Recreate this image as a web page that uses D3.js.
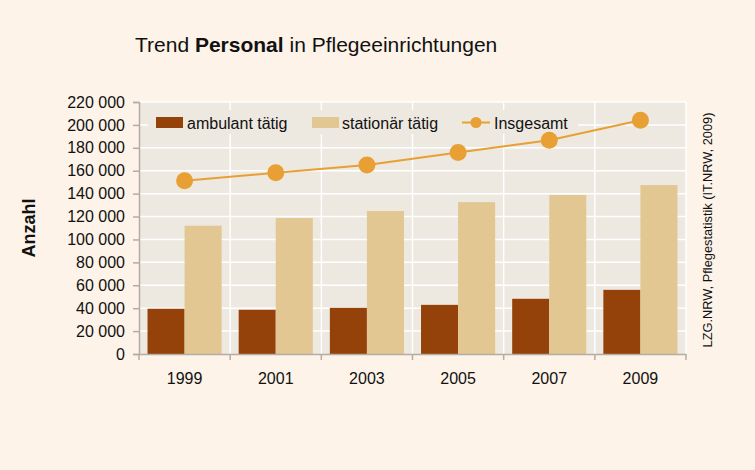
<!DOCTYPE html>
<html>
<head>
<meta charset="utf-8">
<script src="https://cdn.jsdelivr.net/npm/d3@7"></script>
<style>
  body { margin: 0; background: #fdf3e8; }
  svg { display: block; font-family: "Liberation Sans", Arial, sans-serif; }
</style>
</head>
<body>
<div id="chart"></div>
<script>
// data
var years = ["1999", "2001", "2003", "2005", "2007", "2009"];
var seriesNames = ["ambulant tätig", "stationär tätig"];
var ambulant = [39500, 38600, 40300, 42900, 48200, 56000];
var stationaer = [112000, 118700, 124800, 132600, 138800, 147500];
var insgesamt = [151200, 158200, 165100, 175900, 186700, 204100];
var yTicks = [0, 20000, 40000, 60000, 80000, 100000, 120000, 140000, 160000, 180000, 200000, 220000];

var width = 755, height = 470;
var plot = {left: 139, right: 686, top: 102, bottom: 354};

var bar_colors = ["#95410a", "#e3c792"];
var line_color = "#e8a035";

var svg = d3.select("#chart").append("svg")
    .attr("width", width)
    .attr("height", height);

svg.append("rect")
    .attr("width", width)
    .attr("height", height)
    .attr("fill", "#fdf3e8");

// scales
var x = d3.scaleBand()
    .domain(years)
    .range([plot.left, plot.right])
    .paddingInner(0)
    .paddingOuter(0);

var x_inner = d3.scaleBand()
    .domain(seriesNames)
    .range([0, x.bandwidth()])
    .paddingInner(0)
    .paddingOuter(0.23);

var y = d3.scaleLinear()
    .domain([0, 220000])
    .range([plot.bottom, plot.top]);

var fmt = function(d) { return d3.format(",")(d).replace(/,/g, " "); };

// plot background
svg.append("rect")
    .attr("x", plot.left)
    .attr("y", plot.top)
    .attr("width", plot.right - plot.left)
    .attr("height", plot.bottom - plot.top)
    .attr("fill", "#ede8e0");

// gridlines
svg.append("g").selectAll("line")
    .data(yTicks.slice(1))
    .enter().append("line")
    .attr("x1", plot.left)
    .attr("x2", plot.right)
    .attr("y1", function(d) { return y(d); })
    .attr("y2", function(d) { return y(d); })
    .attr("stroke", "#ffffff")
    .attr("stroke-width", 1.5);

svg.append("g").selectAll("line")
    .data(years)
    .enter().append("line")
    .attr("x1", function(d) { return x(d) + x.bandwidth(); })
    .attr("x2", function(d) { return x(d) + x.bandwidth(); })
    .attr("y1", plot.top)
    .attr("y2", plot.bottom)
    .attr("stroke", "#ffffff")
    .attr("stroke-width", 1.5);

// legend background hides the gridlines behind it
var legend = svg.append("g");
legend.append("rect")
    .attr("x", 148)
    .attr("y", 110)
    .attr("width", 430)
    .attr("height", 24)
    .attr("fill", "#ede8e0");

// bars
var groups = svg.append("g").selectAll("g")
    .data(years)
    .enter().append("g")
    .attr("transform", function(d) { return "translate(" + x(d) + ",0)"; });

groups.append("rect")
    .attr("x", x_inner(seriesNames[0]))
    .attr("width", x_inner.bandwidth())
    .attr("y", function(d, i) { return y(ambulant[i]); })
    .attr("height", function(d, i) { return y(0) - y(ambulant[i]); })
    .attr("fill", bar_colors[0]);

groups.append("rect")
    .attr("x", x_inner(seriesNames[1]))
    .attr("width", x_inner.bandwidth())
    .attr("y", function(d, i) { return y(stationaer[i]); })
    .attr("height", function(d, i) { return y(0) - y(stationaer[i]); })
    .attr("fill", bar_colors[1]);

// axes
var yAxis = svg.append("g")
    .attr("transform", "translate(" + plot.left + ",0)")
    .call(d3.axisLeft(y).tickValues(yTicks).tickFormat(fmt).tickSize(6).tickPadding(8));
yAxis.select(".domain").attr("stroke", "#b5aca3").attr("stroke-width", 1.5);
yAxis.selectAll(".tick line").attr("stroke", "#b5aca3").attr("stroke-width", 1.5);
yAxis.selectAll("text")
    .attr("font-family", "Liberation Sans, Arial, sans-serif")
    .attr("font-size", "16px")
    .attr("fill", "#111");

var xAxis = svg.append("g")
    .attr("transform", "translate(0," + plot.bottom + ")")
    .call(d3.axisBottom(x).tickSize(0).tickPadding(19).tickSizeOuter(0));
xAxis.select(".domain").attr("stroke", "#b5aca3").attr("stroke-width", 1.5);
xAxis.selectAll("text")
    .attr("font-family", "Liberation Sans, Arial, sans-serif")
    .attr("font-size", "16px")
    .attr("fill", "#111");

// category separator ticks
svg.append("g").selectAll("line")
    .data([plot.left].concat(years.map(function(d) { return x(d) + x.bandwidth(); })))
    .enter().append("line")
    .attr("x1", function(d) { return d; })
    .attr("x2", function(d) { return d; })
    .attr("y1", plot.bottom)
    .attr("y2", plot.bottom + 6)
    .attr("stroke", "#b5aca3")
    .attr("stroke-width", 1.5);

// total line
var line = d3.line()
    .x(function(d, i) { return x(years[i]) + x.bandwidth() / 2; })
    .y(function(d) { return y(d); });

svg.append("path")
    .datum(insgesamt)
    .attr("d", line)
    .attr("fill", "none")
    .attr("stroke", line_color)
    .attr("stroke-width", 2);

svg.append("g").selectAll("circle")
    .data(insgesamt)
    .enter().append("circle")
    .attr("cx", function(d, i) { return x(years[i]) + x.bandwidth() / 2; })
    .attr("cy", function(d) { return y(d); })
    .attr("r", 8.5)
    .attr("fill", line_color);

// legend entries
legend.append("rect").attr("x", 156).attr("y", 117).attr("width", 27).attr("height", 11).attr("fill", bar_colors[0]);
legend.append("text").attr("x", 187).attr("y", 128.5).text(seriesNames[0])
    .attr("font-size", "16px").attr("fill", "#111");

legend.append("rect").attr("x", 312).attr("y", 117).attr("width", 27).attr("height", 11).attr("fill", bar_colors[1]);
legend.append("text").attr("x", 342).attr("y", 128.5).text(seriesNames[1])
    .attr("font-size", "16px").attr("fill", "#111");

legend.append("line").attr("x1", 462).attr("x2", 490).attr("y1", 122.5).attr("y2", 122.5)
    .attr("stroke", line_color).attr("stroke-width", 2);
legend.append("circle").attr("cx", 476).attr("cy", 122.5).attr("r", 5.5).attr("fill", line_color);
legend.append("text").attr("x", 494).attr("y", 128.5).text("Insgesamt")
    .attr("font-size", "16px").attr("fill", "#111");

// title
var title = svg.append("text")
    .attr("x", 135)
    .attr("y", 52)
    .attr("font-size", "21px")
    .attr("fill", "#111");
title.append("tspan").text("Trend ");
title.append("tspan").attr("font-weight", "bold").text("Personal");
title.append("tspan").text(" in Pflegeeinrichtungen");

// axis label
svg.append("text")
    .attr("transform", "translate(35,228) rotate(-90)")
    .attr("text-anchor", "middle")
    .attr("font-size", "18px")
    .attr("font-weight", "bold")
    .attr("fill", "#111")
    .text("Anzahl");

// source
svg.append("text")
    .attr("transform", "translate(712,230) rotate(-90)")
    .attr("text-anchor", "middle")
    .attr("font-size", "12.8px")
    .attr("fill", "#111")
    .text("LZG.NRW, Pflegestatistik (IT.NRW, 2009)");
</script>
</body>
</html>
